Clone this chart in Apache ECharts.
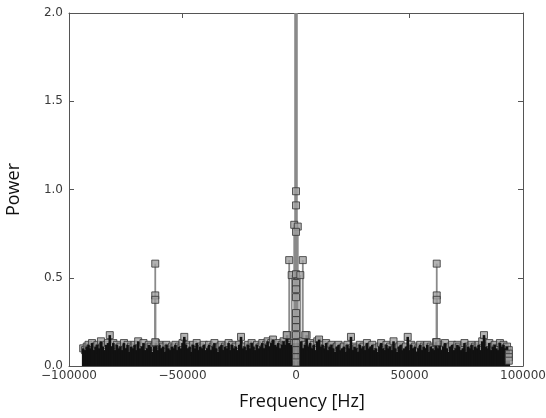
<!DOCTYPE html>
<html>
<head>
<meta charset="utf-8">
<script src="https://cdn.jsdelivr.net/npm/echarts@6/dist/echarts.min.js"></script>
<style>
html, body { margin: 0; padding: 0; background: #fff; }
#main { width: 546px; height: 418px; }
</style>
</head>
<body>
<div id="main"></div>
<script>
// frequency bin spacing [Hz], noise floor from -93750 Hz up to 93750 Hz
var binStep = 781.25;
var firstBin = -93750;

// noise floor, negative side (from -93750 Hz towards 0)
var noiseLeft = [
    0.10, 0.09, 0.11, 0.12, 0.10, 0.13, 0.09, 0.11, 0.12, 0.10,
    0.14, 0.11, 0.09, 0.12, 0.13, 0.175, 0.11, 0.13, 0.09, 0.12,
    0.10, 0.11, 0.09, 0.13, 0.10, 0.12, 0.08, 0.11, 0.10, 0.12,
    0.09, 0.14, 0.10, 0.11, 0.13, 0.09, 0.10, 0.12, 0.11, 0.08,
    0.11, 0.13, 0.09, 0.12, 0.10, 0.11, 0.08, 0.12, 0.10, 0.09,
    0.11, 0.10, 0.12, 0.09, 0.11, 0.10, 0.13, 0.165, 0.12, 0.10,
    0.11, 0.08, 0.12, 0.10, 0.13, 0.09, 0.11, 0.10, 0.12, 0.09,
    0.10, 0.12, 0.09, 0.11, 0.13, 0.10, 0.08, 0.11, 0.12, 0.09,
    0.11, 0.10, 0.13, 0.09, 0.12, 0.10, 0.11, 0.09, 0.12, 0.165,
    0.10, 0.11, 0.09, 0.12, 0.10, 0.13, 0.11, 0.09, 0.12, 0.10,
    0.11, 0.13, 0.10, 0.12, 0.14, 0.11, 0.13, 0.15, 0.12, 0.11,
    0.13, 0.10, 0.12, 0.14, 0.12, 0.175, 0.13, 0.12, 0.11, 0.13
];

// noise floor, positive side (from 781 Hz up to 93750 Hz)
var noiseRight = [
    0.13, 0.11, 0.14, 0.10, 0.12, 0.175, 0.11, 0.13, 0.10, 0.12,
    0.09, 0.14, 0.15, 0.11, 0.12, 0.10, 0.13, 0.09, 0.11, 0.12,
    0.10, 0.08, 0.11, 0.12, 0.09, 0.10, 0.11, 0.08, 0.12, 0.10,
    0.165, 0.09, 0.11, 0.10, 0.08, 0.12, 0.10, 0.11, 0.09, 0.13,
    0.10, 0.11, 0.12, 0.09, 0.10, 0.08, 0.11, 0.13, 0.10, 0.09,
    0.12, 0.10, 0.11, 0.09, 0.14, 0.10, 0.08, 0.11, 0.12, 0.09,
    0.10, 0.11, 0.165, 0.09, 0.12, 0.10, 0.11, 0.08, 0.10, 0.12,
    0.09, 0.11, 0.10, 0.12, 0.08, 0.11, 0.10, 0.09, 0.135, 0.10,
    0.12, 0.09, 0.11, 0.13, 0.10, 0.08, 0.11, 0.12, 0.09, 0.10,
    0.12, 0.11, 0.09, 0.10, 0.13, 0.08, 0.11, 0.10, 0.12, 0.09,
    0.11, 0.10, 0.12, 0.09, 0.14, 0.175, 0.11, 0.10, 0.13, 0.09,
    0.11, 0.12, 0.10, 0.09, 0.13, 0.11, 0.12, 0.10, 0.11, 0.09
];

// strong components: DC spike and its sidebands, the two carriers, Nyquist bin
var peakFreq = [
    0, -390, 390,
    0, 0, -780, 780, 0,
    -3000, 3000,
    -1900, 0, 1900,
    0, 0, 0, 0, 0, 0,
    -4100, 0, 4100, 0, 0, 0, 0,
    -62000, -62000, -62000, -62000,
    62000, 62000, 62000, 62000,
    93750, 93750, 93750
];
var peakPower = [
    3.0, 2.6, 2.6,
    0.99, 0.91, 0.80, 0.79, 0.76,
    0.60, 0.60,
    0.515, 0.52, 0.515,
    0.47, 0.435, 0.39, 0.30, 0.26, 0.22,
    0.175, 0.175, 0.175, 0.13, 0.09, 0.05, 0.02,
    0.58, 0.40, 0.375, 0.135,
    0.58, 0.40, 0.375, 0.135,
    0.07, 0.05, 0.03
];

var xTicks = [-100000, -50000, 0, 50000, 100000];
var yTicks = [0.0, 0.5, 1.0, 1.5, 2.0];

var noiseData = [];
noiseLeft.forEach(function (p, k) { noiseData.push([firstBin + k * binStep, p]); });
noiseRight.forEach(function (p, k) { noiseData.push([(k + 1) * binStep, p]); });
var peakData = peakFreq.map(function (f, i) { return [f, peakPower[i]]; });

function stem(color, width) {
    return function (params, api) {
        var top = api.coord([api.value(0), api.value(1)]);
        var base = api.coord([api.value(0), 0]);
        var yTop = Math.max(top[1], params.coordSys.y);
        return {
            type: 'line',
            shape: { x1: base[0], y1: base[1], x2: top[0], y2: yTop },
            style: { stroke: color, lineWidth: width }
        };
    };
}

var tickFont = { fontFamily: 'DejaVu Sans', fontSize: 12, color: '#3a3a3a' };
var boxLine = { show: true, onZero: false, lineStyle: { color: '#555', width: 1 } };
var inTick = { show: true, inside: true, length: 5, lineStyle: { color: '#555' } };

var markerStyle = { color: '#a0a0a0', borderColor: '#333', borderWidth: 1 };

var option = {
    animation: false,
    backgroundColor: '#fff',
    grid: { left: 69, right: 23, top: 13, bottom: 52, outerBoundsMode: 'none' },
    xAxis: [{
        type: 'value',
        min: -100000, max: 100000, interval: 50000,
        name: 'Frequency [Hz]',
        nameLocation: 'middle',
        nameGap: 27,
        nameTextStyle: { fontFamily: 'Open Sans', fontSize: 18, color: '#111', padding: [0, 0, 0, 12] },
        axisLine: boxLine,
        axisTick: inTick,
        splitLine: { show: false },
        axisLabel: Object.assign({
            margin: 4,
            formatter: function (v) { return xTicks.indexOf(v) < 0 ? '' : String(v).replace('-', '\u2212'); }
        }, tickFont)
    }, {
        type: 'value', position: 'top',
        min: -100000, max: 100000, interval: 50000,
        axisLine: boxLine, axisTick: inTick,
        axisLabel: { show: false }, splitLine: { show: false }
    }],
    yAxis: [{
        type: 'value',
        min: 0, max: 2, interval: 0.5,
        name: 'Power',
        nameLocation: 'middle',
        nameGap: 46,
        nameTextStyle: { fontFamily: 'Open Sans', fontSize: 18, color: '#111' },
        axisLine: boxLine,
        axisTick: inTick,
        splitLine: { show: false },
        axisLabel: Object.assign({
            margin: 6,
            formatter: function (v) { return yTicks.indexOf(v) < 0 ? '' : v.toFixed(1); }
        }, tickFont)
    }, {
        type: 'value', position: 'right',
        min: 0, max: 2, interval: 0.5,
        axisLine: boxLine, axisTick: inTick,
        axisLabel: { show: false }, splitLine: { show: false }
    }],
    series: [{
        name: 'peak stems',
        type: 'custom',
        renderItem: stem('#8a8a8a', 1.8),
        encode: { x: 0, y: 1 },
        data: peakData,
        z: 1
    }, {
        name: 'noise',
        type: 'scatter',
        symbol: 'rect',
        symbolSize: 7,
        itemStyle: markerStyle,
        data: noiseData,
        z: 2
    }, {
        name: 'noise stems',
        type: 'custom',
        renderItem: stem('#111', 2.6),
        encode: { x: 0, y: 1 },
        data: noiseData,
        z: 3
    }, {
        name: 'peaks',
        type: 'scatter',
        symbol: 'rect',
        symbolSize: 7,
        itemStyle: markerStyle,
        data: peakData,
        z: 5
    }]
};

var chart = echarts.init(document.getElementById('main'));
chart.setOption(option);
</script>
</body>
</html>
